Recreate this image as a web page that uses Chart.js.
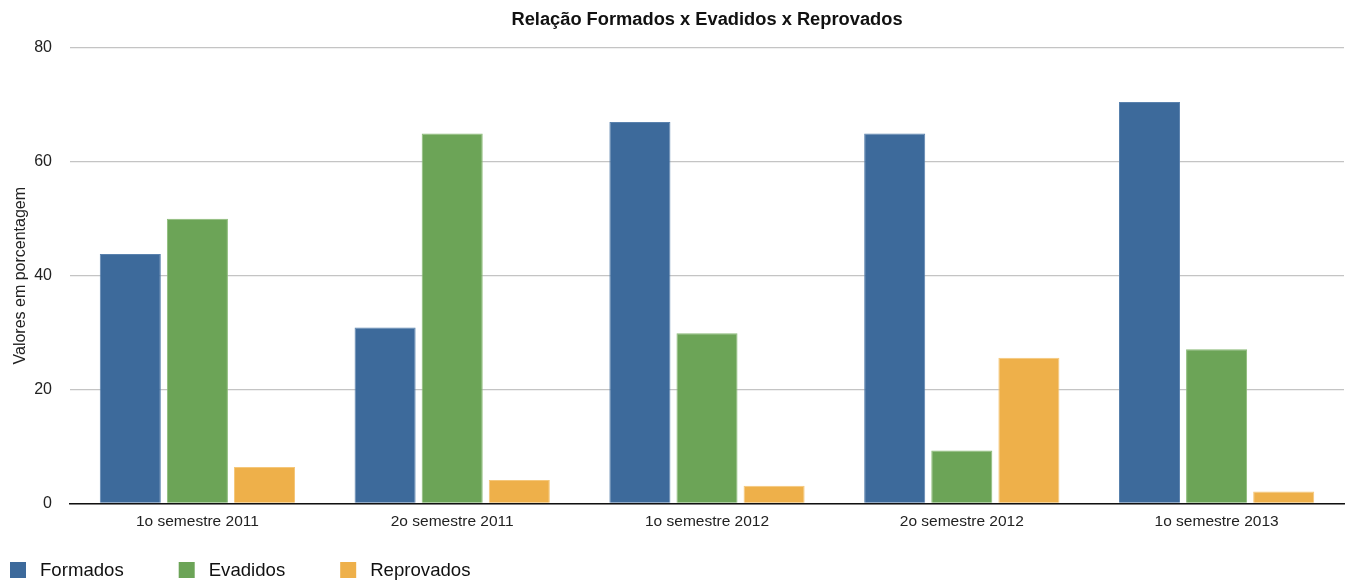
<!DOCTYPE html>
<html>
<head>
<meta charset="utf-8">
<script src="https://cdn.jsdelivr.net/npm/chart.js@4.4.1/dist/chart.umd.min.js"></script>
<style>
  html, body { margin: 0; padding: 0; background: #fff; }
  #wrap { width: 1346px; height: 582px; position: relative; }
</style>
</head>
<body>
<div id="wrap"><canvas id="c" width="1346" height="582"></canvas></div>
<script>
const categories = ["1o semestre 2011", "2o semestre 2011", "1o semestre 2012", "2o semestre 2012", "1o semestre 2013"];
const formados = [43.8, 30.9, 67.0, 65.0, 70.5];
const evadidos = [50.0, 65.0, 29.9, 9.3, 27.1];
const reprovados = [6.4, 4.1, 3.1, 25.6, 2.1];
const yTicks = [0, 20, 40, 60, 80];
const titleText = "Relação Formados x Evadidos x Reprovados";
const yTitle = "Valores em porcentagem";

const FONT = "'Liberation Sans', Arial, Helvetica, sans-serif";

const titlePlugin = {
  id: 'customTitle',
  afterDraw(chart) {
    const ctx = chart.ctx;
    const a = chart.chartArea;
    ctx.save();
    ctx.font = "bold 18.3px " + FONT;
    ctx.fillStyle = "#111";
    ctx.textAlign = "center";
    ctx.textBaseline = "middle";
    ctx.fillText(titleText, (a.left + a.right) / 2, 20);
    ctx.restore();
  }
};

const legendPlugin = {
  id: 'customLegend',
  afterDraw(chart) {
    const ctx = chart.ctx;
    ctx.save();
    ctx.font = "18.6px " + FONT;
    ctx.textBaseline = "middle";
    ctx.textAlign = "left";
    let x = 10;
    const y = 570;
    chart.data.datasets.forEach(ds => {
      ctx.fillStyle = ds.backgroundColor;
      ctx.fillRect(x, y - 8, 16, 16);
      ctx.fillStyle = "#111";
      const tx = x + 30;
      ctx.fillText(ds.label, tx, y + 1);
      x = tx + ctx.measureText(ds.label).width + 55;
    });
    ctx.restore();
  }
};

new Chart(document.getElementById('c'), {
  type: 'bar',
  data: {
    labels: categories,
    datasets: [
      { label: "Formados", data: formados, backgroundColor: "#3d6a9b", borderColor: "#5a82ae", borderWidth: 1 },
      { label: "Evadidos", data: evadidos, backgroundColor: "#6ca457", borderColor: "#8bbb77", borderWidth: 1 },
      { label: "Reprovados", data: reprovados, backgroundColor: "#eeb04a", borderColor: "#f5c77a", borderWidth: 1 }
    ]
  },
  options: {
    responsive: false,
    animation: false,
    devicePixelRatio: 1,
    layout: { padding: { top: 48, right: 2, bottom: 42, left: 0 } },
    datasets: { bar: { categoryPercentage: 0.79, barPercentage: 0.91 } },
    plugins: {
      legend: { display: false },
      title: { display: false },
      tooltip: { enabled: false }
    },
    scales: {
      x: {
        grid: { display: false, drawTicks: false },
        border: { display: true, color: "#111", width: 1.5 },
        ticks: { color: "#222", font: { family: FONT, size: 15.5 }, padding: 9 }
      },
      y: {
        min: 0, max: 80,
        afterBuildTicks(scale) { scale.ticks = yTicks.map(v => ({ value: v })); },
        afterFit(scale) { scale.width = 70; },
        grid: { color: "#c4c4c4", lineWidth: 1.2, drawTicks: false },
        border: { display: false },
        ticks: { color: "#222", font: { family: FONT, size: 16 }, padding: 18 },
        title: { display: true, text: yTitle, color: "#222", font: { family: FONT, size: 16 }, padding: { top: 11, bottom: 0 } }
      }
    }
  },
  plugins: [titlePlugin, legendPlugin]
});
</script>
</body>
</html>
